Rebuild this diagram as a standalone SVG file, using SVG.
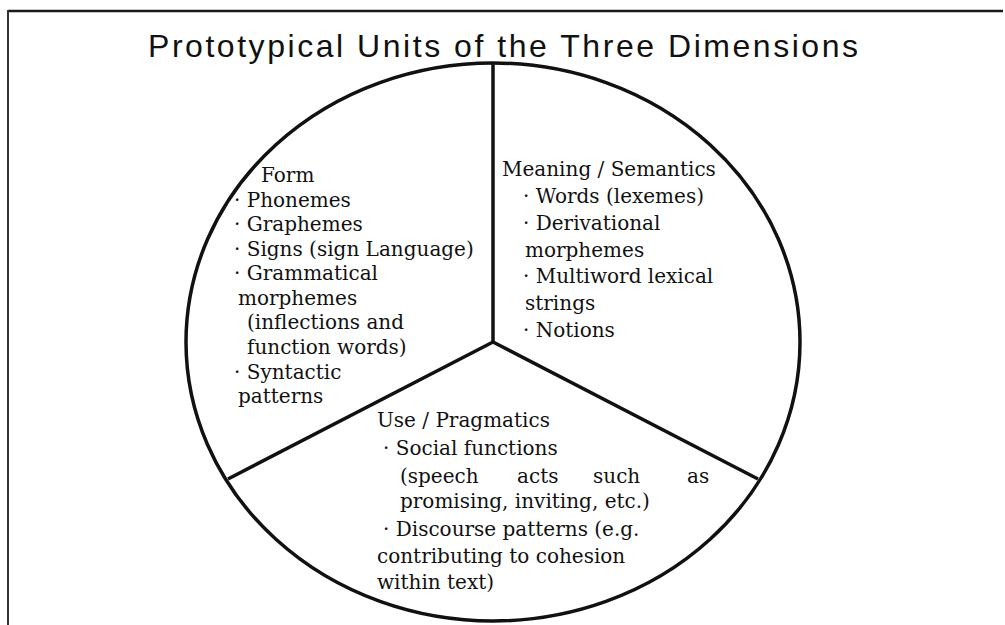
<svg xmlns="http://www.w3.org/2000/svg" width="1005" height="625" viewBox="0 0 1005 625">
<style>
.title{font-family:"Liberation Sans",Arial,sans-serif;font-size:32px;fill:#111}
.t{font-family:"DejaVu Serif","Liberation Serif",serif;font-size:20px;fill:#111}
.ln{stroke:#111;stroke-width:3.5;fill:none;stroke-linecap:butt}
</style>
<rect width="1005" height="625" fill="#fff"/>
<g id="frame">
<line x1="8" y1="11" x2="1003" y2="11" stroke="#1a1a1a" stroke-width="2.5"/>
<line x1="8" y1="10" x2="8" y2="625" stroke="#333" stroke-width="2"/>
</g>
<text id="title" class="title" x="148" y="57" textLength="710" lengthAdjust="spacing">Prototypical Units of the Three Dimensions</text>
<g id="connectors">
<ellipse class="ln" cx="493" cy="342" rx="307" ry="279" stroke-width="4"/>
<line class="ln" x1="493" y1="63" x2="493" y2="342"/>
<line class="ln" x1="493" y1="342" x2="228" y2="479"/>
<line class="ln" x1="493" y1="342" x2="758" y2="479"/>
</g>
<g id="form">
<text class="t" x="261" y="182">Form</text>
<text class="t" x="234" y="207">· Phonemes</text>
<text class="t" x="234" y="231">· Graphemes</text>
<text class="t" x="234" y="256">· Signs (sign Language)</text>
<text class="t" x="234" y="280">· Grammatical</text>
<text class="t" x="238" y="305">morphemes</text>
<text class="t" x="247" y="329">(inflections and</text>
<text class="t" x="247" y="354">function words)</text>
<text class="t" x="234" y="379">· Syntactic</text>
<text class="t" x="238" y="403">patterns</text>
</g>
<g id="meaning">
<text class="t" x="502" y="176">Meaning / Semantics</text>
<text class="t" x="523" y="203">· Words (lexemes)</text>
<text class="t" x="523" y="230">· Derivational</text>
<text class="t" x="525" y="257">morphemes</text>
<text class="t" x="523" y="283">· Multiword lexical</text>
<text class="t" x="525" y="310">strings</text>
<text class="t" x="523" y="337">· Notions</text>
</g>
<g id="use">
<text class="t" x="377" y="427">Use / Pragmatics</text>
<text class="t" x="383" y="455">· Social functions</text>
<text class="t" y="483"><tspan x="400">(speech</tspan><tspan x="517">acts</tspan><tspan x="593">such</tspan><tspan x="687">as</tspan></text>
<text class="t" x="400" y="508">promising, inviting, etc.)</text>
<text class="t" x="383" y="536">· Discourse patterns (e.g.</text>
<text class="t" x="377" y="563">contributing to cohesion</text>
<text class="t" x="377" y="589">within text)</text>
</g>
</svg>
